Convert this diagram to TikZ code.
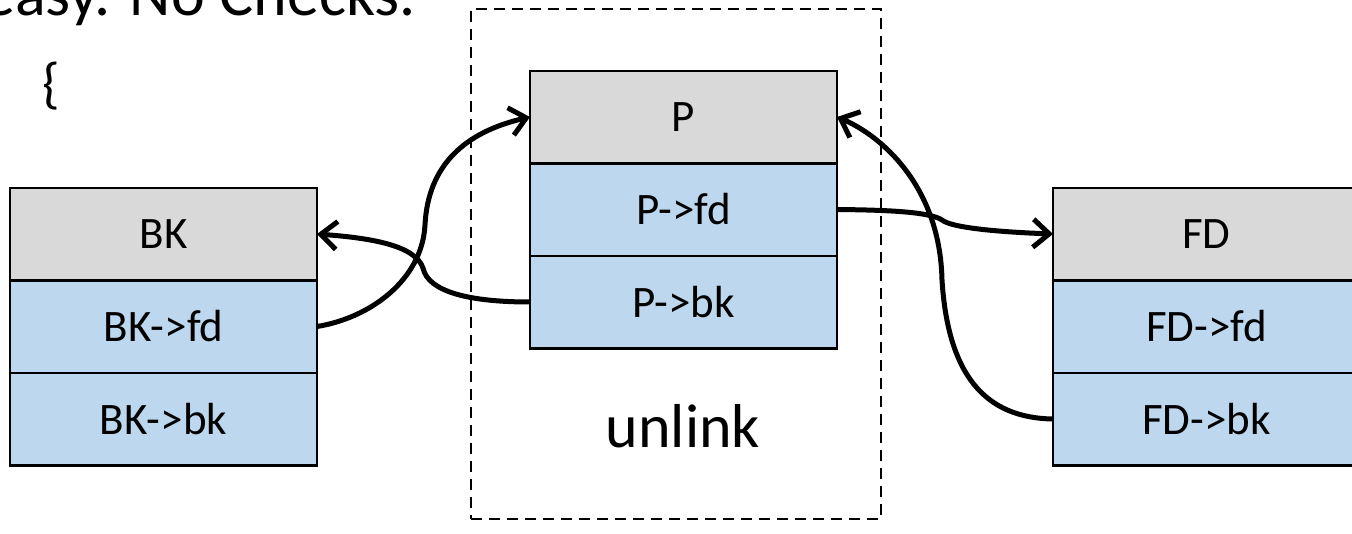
\documentclass[tikz,border=0pt]{standalone}
\usepackage{fontspec}
\setmainfont{Carlito}
\usetikzlibrary{positioning,arrows.meta}
\definecolor{headgray}{HTML}{D9D9D9}
\definecolor{fieldblue}{HTML}{BDD7EE}
\tikzset{cell/.style={draw,line width=2.5pt,minimum width=307pt,minimum height=92.5pt,inner sep=0pt,outer sep=0pt,font=\fontsize{45}{54}\selectfont},
  head/.style={cell,fill=headgray},
  field/.style={cell,fill=fieldblue},
  link/.style={line width=5pt,-{Straight Barb[length=16pt,width=28pt]}}}

\begin{document}
\begin{tikzpicture}[x=1pt,y=-1pt]
\useasboundingbox (0,0) rectangle (1352,533);
\node[anchor=base east,inner sep=0pt,font=\fontsize{64}{77}\selectfont] (title) at (416,15) {easy. No Checks.};
\node[inner sep=0pt,font=\fontsize{56}{67}\selectfont] (brace) at (51,86) {\{};
\node[draw,line width=2.5pt,dash pattern=on 11pt off 7pt,minimum width=410pt,minimum height=510pt] (frame) at (676,264) {};
% chunks
\node[head] (bk) at (163.5,234) {BK};
\node[field,below=0pt of bk] (bkfd) {BK->fd};
\node[field,below=0pt of bkfd] (bkbk) {BK->bk};
\node[head] (p) at (683.5,117) {P};
\node[field,below=0pt of p] (pfd) {P->fd};
\node[field,below=0pt of pfd] (pbk) {P->bk};
\node[head] (fd) at (1206.5,234) {FD};
\node[field,below=0pt of fd] (fdfd) {FD->fd};
\node[field,below=0pt of fdfd] (fdbk) {FD->bk};
\node[anchor=base,inner sep=0pt,font=\fontsize{62}{74}\selectfont] (unlink) at (683,447) {unlink};
% pointers
\draw[link] (bkfd.east) .. controls (370,318) and (422,280) .. (425,225)
  .. controls (428,165) and (465,132) .. (p.west);
\draw[link] (pbk.west) .. controls (470,302) and (428,292) .. (423,268)
  .. controls (415,245) and (370,238) .. (bk.east);
\draw[link] (pfd.east) .. controls (890,210) and (930,212) .. (942,220)
  .. controls (952,228) and (1000,232) .. (fd.west);
\draw[link] (fdbk.west) .. controls (985,418) and (948,375) .. (942,280)
  .. controls (940,185) and (880,135) .. (p.east);
\end{tikzpicture}
\end{document}
